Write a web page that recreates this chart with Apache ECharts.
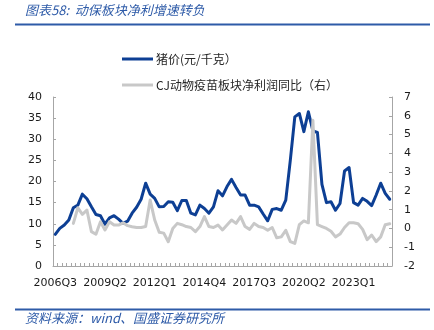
<!DOCTYPE html>
<html>
<head>
<meta charset="utf-8">
<script src="https://cdn.jsdelivr.net/npm/echarts@6/dist/echarts.min.js"></script>
<style>
html,body{margin:0;padding:0;background:#fff;}
#c{width:434px;height:330px;}
</style>
</head>
<body>
<div id="c"></div>
<script>
// Quarterly categories 2006Q3 .. 2025Q1
const categories = [];
(function(){
  let y = 2006, q = 3;
  for (let i = 0; i < 75; i++) {
    categories.push(y + 'Q' + q);
    q++; if (q > 4) { q = 1; y++; }
  }
})();

// 猪价 (元/千克), left axis
const pigPrice = [
  7.5, 8.9, 9.7, 10.9, 13.8, 14.4, 17.0, 15.9, 14.0, 12.2,
  11.9, 9.9, 11.4, 11.9, 11.1, 10.1, 10.6, 12.5, 13.9, 15.8,
  19.6, 17.0, 16.0, 14.0, 14.1, 15.2, 15.1, 13.1, 15.5, 15.5,
  12.5, 12.1, 14.4, 13.6, 12.5, 14.0, 17.8, 16.6, 18.8, 20.5,
  18.6, 16.8, 16.8, 14.4, 14.4, 14.0, 12.3, 10.7, 13.4, 13.6,
  13.2, 15.6, 25.0, 35.3, 36.1, 31.8, 36.5, 32.0, 31.6, 19.3,
  15.0, 15.2, 13.2, 14.8, 22.5, 23.3, 15.0, 14.4, 16.0, 15.3,
  14.3, 16.8, 19.6, 17.2, 15.8
];

// CJ动物疫苗板块净利润同比 (右), right axis
const vaccineProfitYoY = [
  null, null, null, null, 0.27, 1.1, 0.75, 0.98, -0.17, -0.31,
  0.36, -0.08, 0.36, 0.18, 0.18, 0.3, 0.15, 0.09, 0.05, 0.05,
  0.1, 1.51, 0.45, -0.2, -0.25, -0.71, 0.0, 0.27, 0.2, 0.1,
  0.05, -0.17, 0.1, 0.63, 0.1, 0.05, 0.18, -0.08, 0.18, 0.45,
  0.27, 0.63, 0.1, -0.05, 0.27, 0.1, 0.05, -0.1, 0.05, -0.5,
  -0.45, -0.1, -0.7, -0.8, 0.2, 0.4, 0.3, 5.76, 0.2, 0.1,
  0.0, -0.15, -0.45, -0.3, 0.05, 0.3, 0.3, 0.25, -0.05, -0.6,
  -0.35, -0.7, -0.45, 0.2, 0.25
];

const seriesNames = ['猪价(元/千克）', 'CJ动物疫苗板块净利润同比（右）'];
const titleText = '图表58:  动保板块净利增速转负';
const sourceText = '资料来源：wind、国盛证券研究所';

const axisFont = 'DejaVu Sans, Verdana, sans-serif';
const cjkFont = '"Noto Sans CJK SC", "DejaVu Sans", sans-serif';
const axisColor = '#A6A6A6';
const accent = '#2E5BA8';

const chart = echarts.init(document.getElementById('c'), null, {renderer: 'canvas'});
chart.setOption({
  animation: false,
  backgroundColor: '#fff',
  grid: {left: 53, right: 42, top: 97, bottom: 64},
  legend: {
    orient: 'vertical',
    left: 117, top: 47,
    itemWidth: 31, itemHeight: 3,
    itemGap: 12,
    icon: 'rect',
    textStyle: {fontSize: 12, fontFamily: cjkFont, color: '#262626', lineHeight: 14, padding: [0,0,0,-2]},
    data: seriesNames
  },
  xAxis: {
    type: 'category',
    data: categories,
    boundaryGap: true,
    axisLine: {show: true, lineStyle: {color: axisColor, width: 1}},
    axisTick: {show: true, inside: true, interval: 0, length: 3, lineStyle: {color: axisColor}},
    axisLabel: {interval: 10, fontSize: 11, fontFamily: axisFont, color: '#1a1a1a', margin: 12},
    splitLine: {show: false}
  },
  yAxis: [
    {
      type: 'value', min: 0, max: 40, interval: 5, position: 'left',
      axisLine: {show: true, lineStyle: {color: axisColor}},
      axisTick: {show: true, inside: true, length: 3, lineStyle: {color: axisColor}},
      axisLabel: {fontSize: 11, fontFamily: axisFont, color: '#1a1a1a', margin: 11},
      splitLine: {show: false}
    },
    {
      type: 'value', min: -2, max: 7, interval: 1, position: 'right',
      axisLine: {show: true, lineStyle: {color: axisColor}},
      axisTick: {show: true, inside: true, length: 3, lineStyle: {color: axisColor}},
      axisLabel: {fontSize: 11, fontFamily: axisFont, color: '#1a1a1a', margin: 12},
      splitLine: {show: false}
    }
  ],
  series: [
    {
      name: seriesNames[0], type: 'line', yAxisIndex: 0,
      data: pigPrice, showSymbol: false, symbol: 'none',
      lineStyle: {color: '#0D3F94', width: 3, join: 'round', cap: 'round'},
      itemStyle: {color: '#0D3F94'}
    },
    {
      name: seriesNames[1], type: 'line', yAxisIndex: 1,
      data: vaccineProfitYoY, showSymbol: false, symbol: 'none',
      lineStyle: {color: '#C8C8C8', width: 3, join: 'round', cap: 'round'},
      itemStyle: {color: '#C8C8C8'}
    }
  ],
  graphic: [
    {type: 'text', left: 25, top: 4, style: {text: titleText, font: 'italic 13px ' + cjkFont, fill: accent}},
    {type: 'line', shape: {x1: 15, y1: 24.5, x2: 430, y2: 24.5}, style: {stroke: accent, lineWidth: 2}},
    {type: 'line', shape: {x1: 15, y1: 309.5, x2: 430, y2: 309.5}, style: {stroke: accent, lineWidth: 2}},
    {type: 'text', left: 25, top: 312, style: {text: sourceText, font: 'italic 13px ' + cjkFont, fill: accent}}
  ]
});
</script>
</body>
</html>
